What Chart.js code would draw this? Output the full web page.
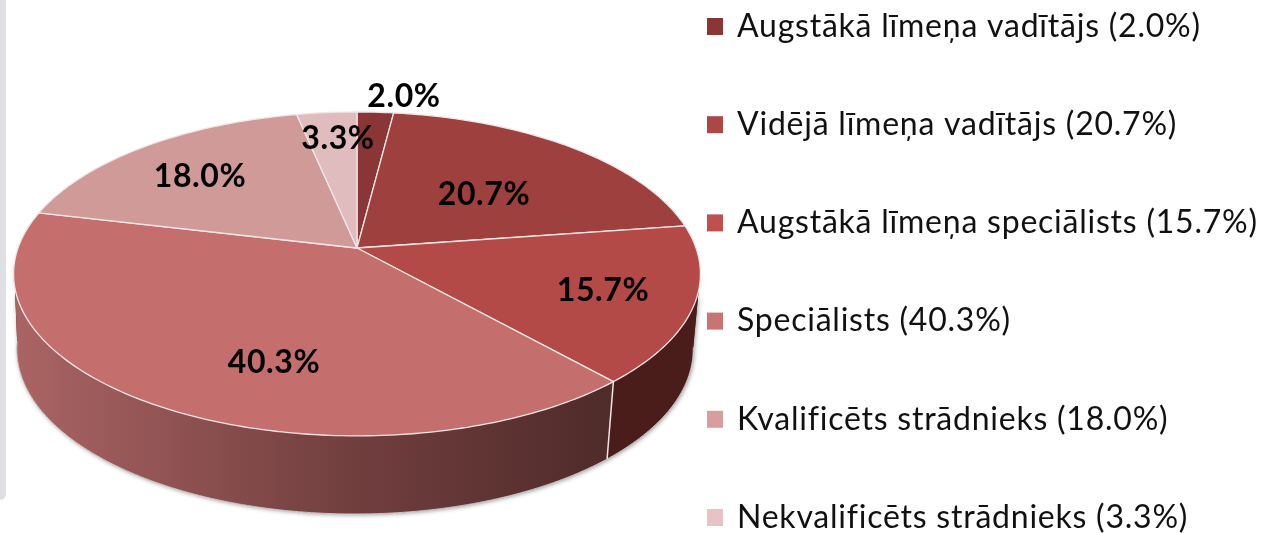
<!DOCTYPE html>
<html><head><meta charset="utf-8">
<script src="https://cdn.jsdelivr.net/npm/chart.js@4"></script>
<style>
html,body{margin:0;padding:0;background:#fff;overflow:hidden;width:1262px;height:533px}
#strip{position:absolute;left:0;top:0;width:6px;height:500px;background:#dfe0e5;border-bottom-right-radius:6px}
#c{position:absolute;left:0;top:0;filter:blur(0.55px)}
</style></head><body>
<div id="strip"></div>
<canvas id="c" width="1262" height="533"></canvas>
<script>
const categories = ["Augstākā līmeņa vadītājs","Vidējā līmeņa vadītājs","Augstākā līmeņa speciālists","Speciālists","Kvalificēts strādnieks","Nekvalificēts strādnieks"];
const shares = [2.0,20.7,15.7,40.3,18.0,3.3];
const sliceColors = ["#8a3636","#9e403d","#b34a47","#c46f6d","#cf9a98","#e0bcbe"];
const legendColors = ["#8b3635","#ab4845","#c0504d","#c87472","#d69e9d","#e6c4c6"];
const labelCenters = [[404,97],[484,195],[603,291],[274,363],[200,177],[338,139]];

const FONT = 'Lato, "Open Sans", sans-serif';
const top3d = {x:357,a:339,b:157.8,k:0.16,y:248};
const bot3d = {x:355,a:334,b:160.9,k:0.1576,y:323};
const project = (p,t)=>{ // t: clockwise angle from 12 o'clock
  const u=Math.sin(t), v=-Math.cos(t), w=1-p.k*v;
  return [p.x+p.a*u/w, p.y+p.b*v/w];
};
const traceArc = (ctx,p,t0,t1,first)=>{
  const n=Math.max(4,Math.ceil(Math.abs(t1-t0)*60));
  for(let i=0;i<=n;i++){
    const q=project(p,t0+(t1-t0)*i/n);
    (first&&i===0)?ctx.moveTo(q[0],q[1]):ctx.lineTo(q[0],q[1]);
  }
};
const sidePath=(ctx,t0,t1)=>{
  ctx.beginPath();traceArc(ctx,top3d,t0,t1,true);traceArc(ctx,bot3d,t1,t0,false);ctx.closePath();
};
const pie3d = {
  id:'pie3d',
  beforeDatasetDraw(chart,args){
    const ctx=chart.ctx, arcs=chart.getDatasetMeta(args.index).data;
    const ang=a=>a+Math.PI/2;
    const edge='#f1e6e6';
    const seam=ang(arcs[2].endAngle);
    const tR=1.72, tL=4.6;
    ctx.save();
    ctx.save();
    ctx.shadowColor='rgba(70,70,70,.55)';ctx.shadowBlur=4;ctx.shadowOffsetX=1;ctx.shadowOffsetY=1;
    sidePath(ctx,tR,tL);ctx.fillStyle='#4a1c1a';ctx.fill();
    ctx.restore();
    sidePath(ctx,tR,seam);ctx.fillStyle='#4a1c1a';ctx.fill();
    const g=ctx.createLinearGradient(15,0,607,0);
    g.addColorStop(0,'#ab6464');g.addColorStop(.54,'#744040');g.addColorStop(1,'#4f2b2a');
    sidePath(ctx,seam,tL);ctx.fillStyle=g;ctx.fill();
    const a=project(top3d,seam), b=project(bot3d,seam);
    ctx.beginPath();ctx.moveTo(a[0],a[1]);ctx.lineTo(b[0],b[1]);ctx.strokeStyle=edge;ctx.lineWidth=1.5;ctx.stroke();
    ctx.beginPath();traceArc(ctx,bot3d,tR,tL,true);ctx.strokeStyle='rgba(225,225,225,.8)';ctx.lineWidth=1;ctx.stroke();
    arcs.forEach((el,i)=>{
      ctx.beginPath();ctx.moveTo(top3d.x,top3d.y);
      traceArc(ctx,top3d,ang(el.startAngle),ang(el.endAngle),false);
      ctx.closePath();
      ctx.fillStyle=sliceColors[i];ctx.fill();
      ctx.strokeStyle=edge;ctx.lineWidth=1.3;ctx.lineJoin='round';ctx.stroke();
    });
    ctx.restore();
    return false;
  },
  afterDraw(chart){
    const ctx=chart.ctx;
    ctx.save();
    ctx.textBaseline='middle';ctx.textAlign='center';ctx.fillStyle='#000';
    ctx.font='bold 32px '+FONT;ctx.letterSpacing='0.6px';
    shares.forEach((v,i)=>ctx.fillText(v.toFixed(1)+'%',labelCenters[i][0],labelCenters[i][1]));
    ctx.textAlign='left';ctx.font='32px '+FONT;ctx.letterSpacing='0.77px';
    categories.forEach((c,i)=>{
      const y=26.5+i*98.2;
      ctx.fillStyle=legendColors[i];ctx.fillRect(707,y-8.5,16,17);
      ctx.fillStyle='#111';ctx.fillText(c+' ('+shares[i].toFixed(1)+'%)',737,y);
    });
    ctx.restore();
  }
};
new Chart(document.getElementById('c'),{
  type:'pie',
  data:{labels:categories,datasets:[{data:shares,backgroundColor:sliceColors,borderColor:'#f1e6e6'}]},
  options:{responsive:false,animation:false,plugins:{legend:{display:false},tooltip:{enabled:false}}},
  plugins:[pie3d]
});
</script>
</body></html>
